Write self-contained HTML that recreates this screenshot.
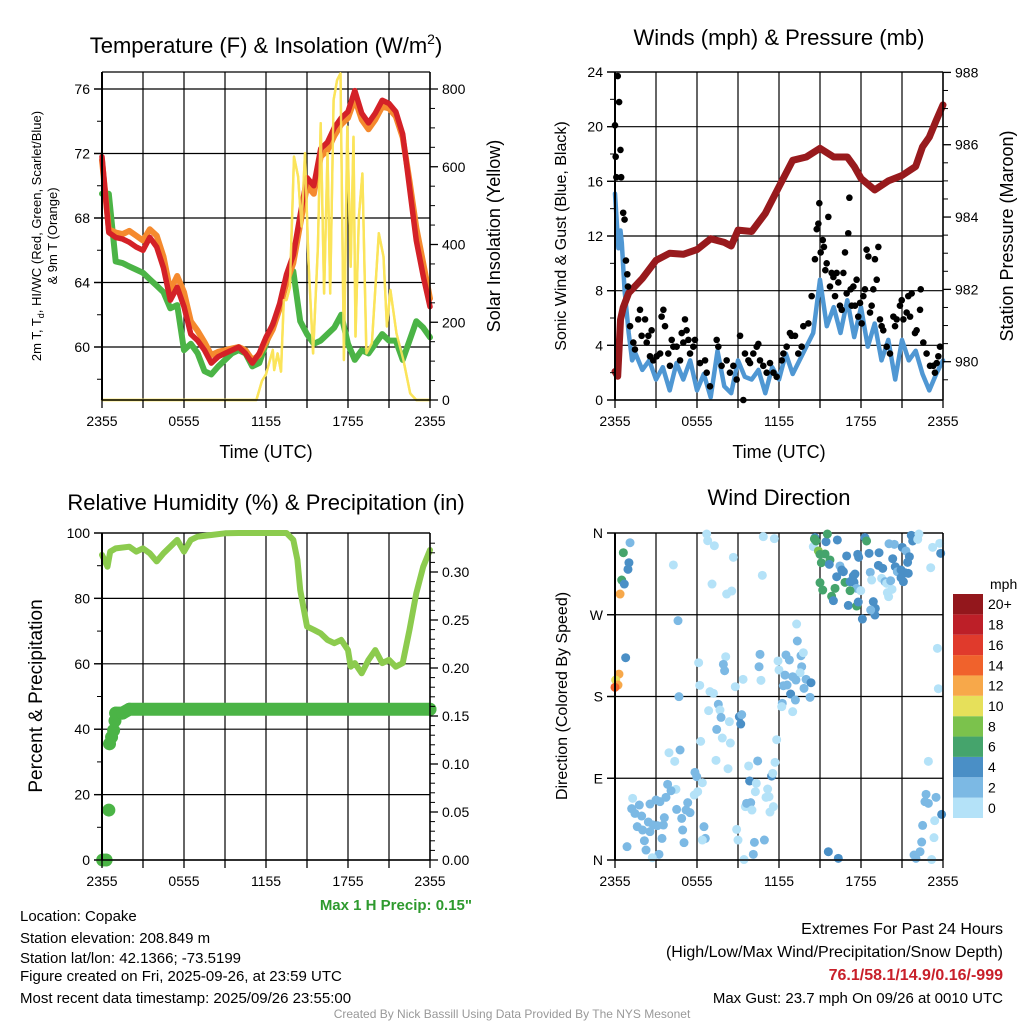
<!DOCTYPE html>
<html><head><meta charset="utf-8"><title>Copake Meteogram</title>
<style>
html,body{margin:0;padding:0;background:#fff;}
svg{display:block;font-family:"Liberation Sans",Arial,sans-serif;}
</style></head>
<body>
<svg id="fig" width="1024" height="1024" viewBox="0 0 1024 1024" xmlns="http://www.w3.org/2000/svg">
<rect width="1024" height="1024" fill="#fff"/>
<g id="layer-grid"></g>
<g id="layer-data"></g>
<g id="layer-axes"></g>
<g id="layer-text" font-size="14" fill="#000">
  <text x="266" y="53" font-size="22" text-anchor="middle">Temperature (F) &amp; Insolation (W/m<tspan font-size="14" dy="-9">2</tspan><tspan dy="9">)</tspan></text>
  <text x="779" y="45" font-size="22" text-anchor="middle">Winds (mph) &amp; Pressure (mb)</text>
  <text x="266" y="510" font-size="22" text-anchor="middle">Relative Humidity (%) &amp; Precipitation (in)</text>
  <text x="779" y="505" font-size="22" text-anchor="middle">Wind Direction</text>

  <text x="266" y="458" font-size="18" text-anchor="middle">Time (UTC)</text>
  <text x="779" y="458" font-size="18" text-anchor="middle">Time (UTC)</text>

  <text transform="translate(41,236) rotate(-90)" font-size="13" text-anchor="middle">2m T, T<tspan font-size="9" dy="3">d</tspan><tspan dy="-3">, HI/WC (Red, Green, Scarlet/Blue)</tspan></text>
  <text transform="translate(57,236) rotate(-90)" font-size="13" text-anchor="middle">&amp; 9m T (Orange)</text>
  <text transform="translate(500,236) rotate(-90)" font-size="18" text-anchor="middle">Solar Insolation (Yellow)</text>
  <text transform="translate(566,236) rotate(-90)" font-size="16" text-anchor="middle">Sonic Wind &amp; Gust (Blue, Black)</text>
  <text transform="translate(1013,236) rotate(-90)" font-size="18" text-anchor="middle">Station Pressure (Maroon)</text>
  <text transform="translate(42,696) rotate(-90)" font-size="19" text-anchor="middle">Percent &amp; Precipitation</text>
  <text transform="translate(567,696) rotate(-90)" font-size="16" text-anchor="middle">Direction (Colored By Speed)</text>

  <text x="472" y="910" font-size="15" font-weight="bold" fill="#2e9a2e" text-anchor="end">Max 1 H Precip: 0.15"</text>
  <g font-size="15">
    <text x="20" y="921">Location: Copake</text>
    <text x="20" y="943">Station elevation: 208.849 m</text>
    <text x="20" y="963">Station lat/lon: 42.1366; -73.5199</text>
    <text x="20" y="981">Figure created on Fri, 2025-09-26, at 23:59 UTC</text>
    <text x="20" y="1003">Most recent data timestamp: 2025/09/26 23:55:00</text>
  </g>
  <g font-size="16" text-anchor="end">
    <text x="1003" y="934">Extremes For Past 24 Hours</text>
    <text x="1003" y="957">(High/Low/Max Wind/Precipitation/Snow Depth)</text>
    <text x="1003" y="980" font-weight="bold" fill="#c8202a">76.1/58.1/14.9/0.16/-999</text>
    <text x="1003" y="1003" font-size="15">Max Gust: 23.7 mph On 09/26 at 0010 UTC</text>
  </g>
  <text x="512" y="1018" font-size="12" fill="#999" text-anchor="middle">Created By Nick Bassill Using Data Provided By The NYS Mesonet</text>
  <text x="990" y="589" font-size="14">mph</text>
</g>
</svg>
<script>
// ---------------- DATA ----------------
const halfHours = [0,0.5,1,1.5,2,2.5,3,3.5,4,4.5,5,5.5,6,6.5,7,7.5,8,8.5,9,9.5,10,10.5,11,11.5,12,12.5,13,13.5,14,14.5,15,15.5,16,16.5,17,17.5,18,18.5,19,19.5,20,20.5,21,21.5,22,22.5,23,23.5,24];
const temp2m = [71.8,67.1,66.8,66.7,66.5,66.2,66.0,66.8,66.2,64.9,62.9,63.7,62.5,60.8,60.4,59.8,59.0,59.4,59.6,59.8,60.0,59.6,59.0,59.6,60.6,61.4,62.7,64.5,65.7,68.2,70.5,70.0,72.3,72.7,73.6,74.2,74.6,75.9,74.5,73.9,74.5,75.3,75.1,74.6,73.2,69.9,66.6,64.4,62.5];
const temp9m = [71.6,67.3,67.1,67.0,67.2,66.9,66.6,67.3,66.9,65.6,63.5,64.4,63.4,61.6,61.0,60.3,59.5,59.7,59.8,59.9,60.0,59.8,59.2,59.5,60.3,61.1,62.4,64.0,65.2,67.6,70.0,69.5,71.8,72.2,73.1,73.8,74.2,75.4,74.1,73.5,74.1,74.9,74.8,74.3,73.0,70.3,67.4,65.2,63.0];
const dewpoint = [69.5,69.5,65.3,65.2,65.0,64.8,64.6,64.2,63.8,63.4,62.4,62.6,59.8,60.2,59.6,58.5,58.3,58.8,59.2,59.6,59.8,59.6,58.8,59.0,60.2,61.4,62.4,64.3,64.7,61.6,60.8,60.2,60.4,60.8,61.2,62.0,60.2,59.2,59.8,59.6,60.2,60.8,60.4,60.4,59.2,60.4,61.6,61.2,60.6];
const solarHours = [0,11.3,11.7,12,12.5,12.6,12.85,13.1,13.3,13.5,13.75,14.05,14.35,14.6,14.85,15.1,15.45,15.8,16.0,16.25,16.5,16.7,16.95,17.2,17.45,17.7,17.95,18.2,18.4,18.55,18.8,19.05,19.35,19.75,20.25,20.6,20.85,21.1,21.55,22.05,22.55,23.0,24];
const solarWm2 = [0,0,49,66,129,77,120,73,257,257,290,626,575,446,635,360,120,394,712,274,635,274,772,823,840,103,703,343,677,163,472,583,120,146,429,369,189,283,171,103,17,0,0];

const windHours = [0,0.25,0.4,0.5,0.7,1,1.25,1.5,2,2.5,3,3.5,4,4.5,5,5.5,6,6.5,7,7.5,8,8.5,9,9.5,10,10.5,11,11.5,12,12.5,13,13.5,14,14.5,15,15.5,16,16.5,17,17.5,18,18.5,19,19.5,20,20.5,21,21.5,22,22.5,23,23.5,24];
const windMph = [15.1,11.1,12.4,11.5,8.0,4.9,2.9,3.4,2.2,2.9,1.5,2.4,0.7,2.7,1.5,2.9,0.7,1.9,0.2,3.6,1.0,0.5,2.9,1.7,1.5,2.2,0.5,2.4,1.5,3.4,1.9,2.9,3.9,4.9,8.8,5.4,6.8,4.9,7.3,4.6,6.8,3.9,5.6,2.9,4.4,1.5,4.4,2.9,3.6,1.9,0.7,1.9,2.9];
const gustHours = [0.0,0.05,0.1,0.2,0.3,0.4,0.45,0.6,0.7,0.8,0.9,0.95,1.1,1.34,1.46,1.7,1.83,1.95,2.2,2.32,2.44,2.56,2.68,2.8,3.05,3.3,3.41,3.54,3.66,3.9,4.02,4.15,4.27,4.51,4.76,4.88,5.0,5.12,5.24,5.37,5.49,5.73,5.85,6.22,6.59,6.71,6.95,7.44,7.56,7.8,8.17,8.41,8.66,8.9,9.15,9.39,9.51,9.76,9.88,10.12,10.37,10.49,10.61,10.85,11.1,11.34,11.59,11.83,12.2,12.32,12.56,12.8,12.93,13.17,13.41,13.66,13.78,14.15,14.39,14.63,14.76,14.88,14.95,15.05,15.2,15.29,15.39,15.49,15.61,15.73,15.85,15.98,16.1,16.22,16.34,16.46,16.59,16.71,16.83,16.95,17.07,17.15,17.24,17.32,17.44,17.56,17.68,17.8,17.93,18.05,18.17,18.29,18.41,18.54,18.66,18.78,18.9,19.02,19.15,19.27,19.39,19.51,19.63,19.88,20.12,20.37,20.49,20.61,20.85,20.98,21.1,21.34,21.46,21.59,21.71,21.95,22.07,22.32,22.37,22.56,22.8,23.05,23.29,23.41,23.54,23.66,23.78];
const gustMph = [20.1,17.8,16.3,23.7,21.8,18.3,16.3,13.7,13.2,10.2,9.2,8.3,5.4,4.2,3.7,5.9,6.6,4.7,5.9,4.2,4.7,3.2,5.1,2.9,3.2,3.4,6.1,6.6,5.4,3.4,2.5,4.4,3.9,3.9,2.9,4.9,4.2,5.9,5.1,4.4,3.4,3.9,4.4,2.7,2.9,2.0,1.0,4.4,3.9,2.5,2.9,2.0,2.5,1.5,4.7,0.0,3.4,2.9,2.7,3.4,3.9,4.1,2.9,2.5,2.0,2.7,2.0,1.7,2.9,3.4,3.9,4.9,4.7,4.7,3.4,3.9,5.4,5.6,7.6,10.3,12.5,12.9,14.4,10.8,11.7,11.2,9.5,10.0,13.4,8.3,9.3,9.0,7.6,9.3,8.6,6.9,6.6,9.3,10.8,7.8,12.2,14.8,8.1,6.9,8.3,6.9,8.8,6.1,7.1,5.6,7.6,8.1,11.0,10.5,6.4,6.9,8.1,10.3,8.8,11.2,5.9,5.4,5.1,3.9,3.4,6.1,5.4,5.9,6.9,7.3,5.9,6.4,7.6,6.1,7.8,4.9,5.1,6.6,8.1,4.2,3.4,2.5,2.5,2.0,2.7,3.2,3.9];
const presHours = [0,0.2,0.4,0.6,1,2,3,4,5,6,7,8,8.5,9,10,11,12,13,14,15,16,17,17.5,18,19,20,21,22,22.5,23,23.5,24];
const presMb = [979.73,979.6,981.16,981.5,981.9,982.3,982.8,983.0,982.97,983.1,983.4,983.3,983.2,983.64,983.6,984.1,984.84,985.57,985.66,985.9,985.66,985.66,985.4,985.07,984.75,985.0,985.15,985.4,985.94,986.21,986.67,987.1];

const rhHours = [0,0.4,0.6,1,2,2.5,3,3.5,4,4.5,5,5.5,6,6.5,7,8,9,10,11,12,13,13.5,14,14.3,14.5,15,15.5,16,16.5,17,17.5,18,18.2,18.5,19,19.5,20,20.5,21,21.5,22,22.5,23,23.5,24];
const rhPct = [93.3,89.7,94.3,95.3,95.8,94.3,95.3,93.8,91.3,93.8,95.8,97.9,94.3,97.9,98.9,99.4,99.9,100,100,100,100,100,97.9,91.8,82.6,71.4,70.4,69.3,67.3,66.3,67.3,64.2,59.1,60.2,57.1,61.2,64.2,60.2,61.2,59.1,60.2,70.4,81.6,89.7,94.8];
const precipHours = [0.05,0.3,0.5,0.55,0.7,0.85,0.95,1.0,1.5,2.0,24];
const precipIn = [0,0,0.052,0.121,0.128,0.135,0.145,0.153,0.153,0.157,0.157];

const dirHours = [1.10,0.61,1.02,0.95,0.49,0.68,0.37,0.78,0.29,0.05,0.22,0.0,4.27,6.71,6.78,7.27,8.66,7.10,8.17,8.54,10.85,11.66,10.78,4.61,6.12,8.10,7.93,8.02,6.20,4.68,6.95,7.20,8.80,9.37,10.61,10.54,10.68,11.93,12.0,12.44,12.51,12.76,13.29,13.34,13.61,13.78,13.66,13.54,13.0,13.24,13.98,14.34,13.83,14.27,12.32,12.59,12.85,13.20,12.24,12.20,13.0,7.56,6.85,7.68,7.76,8.37,9.10,9.27,9.20,7.44,7.85,8.44,6.27,11.83,3.95,4.76,4.37,7.39,8.27,9.78,10.44,11.71,5.85,5.98,6.39,3.85,4.46,4.10,3.73,3.29,3.0,2.56,1.78,1.29,1.22,1.46,1.95,1.63,2.02,2.44,2.56,2.80,3.10,3.54,3.61,4.51,4.88,5.20,5.49,5.32,5.80,6.05,4.95,3.44,2.15,5.05,6.51,6.61,6.39,8.90,9.0,10.2,10.93,10.12,9.44,3.22,2.73,2.27,0.88,9.54,9.63,9.93,10.02,9.85,10.34,10.27,11.17,11.05,11.27,11.59,11.34,11.46,11.54,15.61,16.34,14.63,14.51,14.59,14.71,14.88,15.0,15.37,15.10,15.73,15.68,15.44,15.54,16.27,16.95,16.46,16.59,16.71,16.22,16.83,17.20,17.44,17.56,17.49,17.68,17.20,16.10,15.85,15.98,15.20,15.0,17.07,17.68,17.80,18.10,17.98,17.76,17.83,18.29,18.41,18.59,19.32,19.27,19.59,18.68,18.78,19.51,19.76,19.88,19.93,20.02,20.27,20.17,18.90,19.05,19.02,18.71,20.05,20.44,20.32,20.51,20.66,20.93,21.02,21.29,21.54,21.41,21.22,21.46,20.93,21.10,21.68,21.78,22.24,22.15,23.24,23.76,23.83,23.10,23.59,23.66,22.93,22.76,22.68,22.93,23.49,23.90,22.51,23.39,23.34,22.44,22.32,21.88,22.02,23.17];
const dirDegrees = [349.3,338.3,327.3,320.0,308.2,303.8,292.8,222.7,204.7,198.1,192.6,190.1,324.8,358.9,351.5,346.0,333.2,303.8,292.8,296.1,356.0,353.8,313.4,263.5,217.2,223.8,215.4,208.4,192.3,179.8,185.3,183.5,190.8,198.9,226.4,212.8,197.8,219.1,209.2,203.6,225.7,220.2,259.8,241.1,224.9,228.2,212.8,206.2,201.8,198.1,198.9,195.2,189.0,179.1,191.9,192.6,182.7,176.1,172.5,168.8,163.3,171.4,164.4,165.1,157.0,152.3,157.8,160.0,149.7,143.8,134.3,128.8,130.6,132.4,118.1,121.1,108.6,109.7,100.5,103.5,109.0,107.5,96.5,91.7,85.1,83.3,77.8,76.3,69.0,64.2,66.0,61.6,60.5,67.9,56.5,51.3,48.4,36.7,33.0,41.8,31.2,38.5,37.8,38.5,46.6,55.7,45.8,55.0,52.1,63.1,71.5,75.2,33.0,23.8,21.2,19.1,36.7,23.8,22.0,33.7,22.0,19.4,22.0,6.2,0.5,6.2,2.5,11.0,14.7,58.7,62.4,63.1,55.0,87.0,84.4,75.2,78.1,69.0,69.7,58.7,52.8,92.4,95.4,9.1,1.8,354.9,345.0,353.4,351.2,340.2,336.5,336.9,327.3,330.3,325.5,350.4,358.9,352.3,334.7,323.7,319.3,317.4,311.9,305.7,306.4,312.6,314.8,305.7,299.1,296.5,299.1,290.3,285.5,297.2,305.3,280.3,279.6,284.0,265.3,296.5,336.5,333.2,354.9,351.2,337.6,338.3,324.4,321.1,316.7,308.2,310.1,306.4,304.6,294.3,289.9,298.0,307.5,284.4,277.0,269.7,275.2,348.2,347.5,331.7,322.9,317.4,319.3,344.2,340.2,333.9,327.7,316.3,315.6,310.8,306.4,357.4,351.2,358.9,353.0,344.2,348.6,337.6,321.8,233.0,188.6,108.6,72.3,64.2,62.4,69.0,50.2,38.1,43.3,24.6,19.8,9.1,5.5,1.8,0.5];
const dirSpeeds = [3,7,5,5,7,5,13,5,13,11,13,15,1,1,1,1,1,1,1,1,1,1,1,3,1,1,3,3,1,3,1,1,1,1,3,3,1,1,1,3,3,3,1,3,3,1,3,1,3,3,3,5,3,3,3,3,5,3,3,1,1,3,1,1,3,1,5,3,5,3,1,1,1,1,1,3,1,1,1,1,3,1,3,3,1,3,1,3,3,3,3,3,3,1,3,3,3,3,3,3,3,3,3,3,3,3,3,3,3,3,1,1,3,3,3,3,3,3,1,1,1,3,3,3,1,3,1,3,3,1,3,3,1,5,1,1,1,1,1,1,1,5,1,5,5,5,1,7,7,9,7,7,7,7,5,5,7,5,5,3,5,5,5,7,5,5,5,5,3,7,7,7,5,7,7,5,7,5,5,1,5,5,5,7,5,5,5,5,3,1,1,3,1,1,1,1,3,5,5,5,3,3,3,5,5,3,5,5,3,5,5,5,5,5,5,5,5,1,1,1,1,5,1,1,1,1,3,3,3,3,5,3,1,1,3,3,3,3,1];
const speedBins = [0,2,4,6,8,10,12,14,16,18,20];
const binColors = ['#b4e2f8','#7cb9e4','#4a8fc6','#45a46c','#7bc24c','#e6e05a','#f7a84a','#f0622c','#e03a2c','#bd1f28','#93171c'];
const binLabels = ['0','2','4','6','8','10','12','14','16','18','20+'];
const timeTickLabels = ['2355','0555','1155','1755','2355'];

// ---------------- HELPERS ----------------
const NS='http://www.w3.org/2000/svg';
function mk(tag, attrs, parent){const e=document.createElementNS(NS,tag);for(const k in attrs)e.setAttribute(k,attrs[k]);(parent||document.getElementById('layer-data')).appendChild(e);return e;}
const gGrid=document.getElementById('layer-grid'), gData=document.getElementById('layer-data'), gAxes=document.getElementById('layer-axes');
function lin(d0,d1,r0,r1){return v=>r0+(v-d0)*(r1-r0)/(d1-d0);}

function panel(x0,x1,y0,y1,hLines,leftTicks,leftMinor,ly,rightTicks,rightMinor,ry,rightLabel){
  const X=lin(0,24,x0,x1);
  for(let h=0;h<=24;h+=3){const l=mk('line',{x1:X(h),x2:X(h),y1:y0,y2:y1,stroke:'#000','stroke-width':1.2},gGrid);
    
    const t=mk('line',{x1:X(h),x2:X(h),y1:y1,y2:y1+8,stroke:'#000','stroke-width':1.3},gAxes);
    }
  hLines.forEach(v=>{const l=mk('line',{x1:x0-8,x2:x1,y1:ly(v),y2:ly(v),stroke:'#000','stroke-width':1.2},gGrid);
    });
  mk('line',{x1:x0,x2:x1,y1:y0,y2:y0,stroke:'#000','stroke-width':1.2},gGrid);
  mk('line',{x1:x0,x2:x1,y1:y1,y2:y1,stroke:'#000','stroke-width':1.5},gAxes);
  mk('line',{x1:x0,x2:x0,y1:y0,y2:y1,stroke:'#000','stroke-width':2},gAxes);
  mk('line',{x1:x1,x2:x1,y1:y0,y2:y1,stroke:'#000','stroke-width':1.5},gAxes);
  timeTickLabels.forEach((s,i)=>{const t=mk('text',{x:X(i*6),y:y1+26,'font-size':14,'text-anchor':'middle'},gAxes);t.textContent=s;
    });
  leftMinor.forEach(v=>mk('line',{x1:x0-5,x2:x0,y1:ly(v),y2:ly(v),stroke:'#000','stroke-width':1},gAxes));
  leftTicks.forEach(v=>{mk('line',{x1:x0-8,x2:x0,y1:ly(v),y2:ly(v),stroke:'#000','stroke-width':1.3},gAxes);
    const t=mk('text',{x:x0-12,y:ly(v)+5,'font-size':14,'text-anchor':'end'},gAxes);t.textContent=v;
    });
  if(rightTicks){rightMinor.forEach(v=>mk('line',{x1:x1,x2:x1+5,y1:ry(v),y2:ry(v),stroke:'#000','stroke-width':1},gAxes));
    rightTicks.forEach(v=>{mk('line',{x1:x1,x2:x1+8,y1:ry(v),y2:ry(v),stroke:'#000','stroke-width':1.3},gAxes);
      const t=mk('text',{x:x1+12,y:ry(v)+5,'font-size':14},gAxes);t.textContent=rightLabel(v);
      });}
  return X;
}
function path(xs,ys,X,Y,attrs,name){let d='';xs.forEach((h,i)=>{d+=(i?'L':'M')+X(h).toFixed(1)+' '+Y(ys[i]).toFixed(1);});
  const p=mk('path',Object.assign({d:d,fill:'none','stroke-linejoin':'round','stroke-linecap':'round'},attrs),gData);
  return p;}

// ---------------- PANEL 1 ----------------
const T1=lin(60,76,347,89), S1=lin(0,800,400,89);
const X1=panel(102,430,72,400,[60,64,68,72,76],[60,64,68,72,76],[58,62,66,70,74],T1,[0,200,400,600,800],[50,100,150,250,300,350,450,500,550,650,700,750],S1,v=>v);
path(solarHours,solarWm2,X1,S1,{stroke:'#fbe35a','stroke-width':2.4},'solar-insolation-line');
path(halfHours,dewpoint,X1,T1,{stroke:'#4bb446','stroke-width':6},'dewpoint-line');
path(halfHours,temp9m,X1,T1,{stroke:'#f58a2e','stroke-width':6},'temp-9m-line');
path(halfHours,temp2m,X1,T1,{stroke:'#d42127','stroke-width':5.5},'temp-2m-line');
path(solarHours,solarWm2,X1,S1,{stroke:'#fbe35a','stroke-width':2.4,opacity:0.9},'solar-insolation-line-top');

// ---------------- PANEL 2 ----------------
const W2=lin(0,24,400,72), P2=lin(980,988,361.7,72.4);
const X2=panel(615,943,72,400,[0,4,8,12,16,20,24],[0,4,8,12,16,20,24],[2,6,10,14,18,22],W2,[980,982,984,986,988],[979.5,980.5,981,981.5,982.5,983,983.5,984.5,985,985.5,986.5,987,987.5],P2,v=>v);
path(windHours,windMph,X2,W2,{stroke:'#4f97d3','stroke-width':4.5},'sonic-wind-line');
path(presHours,presMb,X2,P2,{stroke:'#981a1d','stroke-width':7},'pressure-line');
gustHours.forEach((h,i)=>{const c=mk('circle',{cx:X2(h),cy:W2(gustMph[i]),r:3.3,fill:'#000'},gData);
  });

// ---------------- PANEL 3 ----------------
const R3=lin(0,100,860,533), Q3=lin(0,0.30,860,572);
const X3=panel(102,430,533,860,[0,20,40,60,80,100],[0,20,40,60,80,100],[10,30,50,70,90],R3,[0,0.05,0.1,0.15,0.2,0.25,0.3],[0.01,0.02,0.03,0.04,0.06,0.07,0.08,0.09,0.11,0.12,0.13,0.14,0.16,0.17,0.18,0.19,0.21,0.22,0.23,0.24,0.26,0.27,0.28,0.29,0.31,0.32,0.33],Q3,v=>v.toFixed(2));
path(rhHours,rhPct,X3,R3,{stroke:'#8ccb4e','stroke-width':6},'relative-humidity-line');
const bandH=precipHours.filter((h,i)=>precipIn[i]>=0.15);
const bandV=precipIn.filter(v=>v>=0.15);
path(bandH,bandV,X3,Q3,{stroke:'#4bb446','stroke-width':13},'precip-line');
precipHours.forEach((h,i)=>{const c=mk('circle',{cx:X3(h),cy:Q3(precipIn[i]),r:6.5,fill:'#4bb446'},gData);
  });

// ---------------- PANEL 4 ----------------
const D4=lin(0,360,860,533);
const X4=panel(615,943,533,860,[0,90,180,270,360],[],[],D4,null);
const dirLabels=['N','E','S','W','N'];
[0,90,180,270,360].forEach((v,i)=>{mk('line',{x1:607,x2:615,y1:D4(v),y2:D4(v),stroke:'#000','stroke-width':1.3},gAxes);
  const t=mk('text',{x:603,y:D4(v)+5,'font-size':14,'text-anchor':'end'},gAxes);t.textContent=dirLabels[i];
  });
function binColor(s){let k=0;speedBins.forEach((b,i)=>{if(s>=b)k=i;});return binColors[k];}
dirHours.forEach((h,i)=>{const c=mk('circle',{cx:X4(h),cy:D4(dirDegrees[i]),r:4.5,fill:binColor(dirSpeeds[i])},gData);
  });
const CB=lin(0,11,818,594);
binColors.forEach((col,i)=>{const r=mk('rect',{x:953,y:CB(i+1),width:30,height:CB(i)-CB(i+1),fill:col},gAxes);
  
  const t=mk('text',{x:988,y:(CB(i)+CB(i+1))/2+5,'font-size':14},gAxes);t.textContent=binLabels[i];
  });
</script>
</body></html>
